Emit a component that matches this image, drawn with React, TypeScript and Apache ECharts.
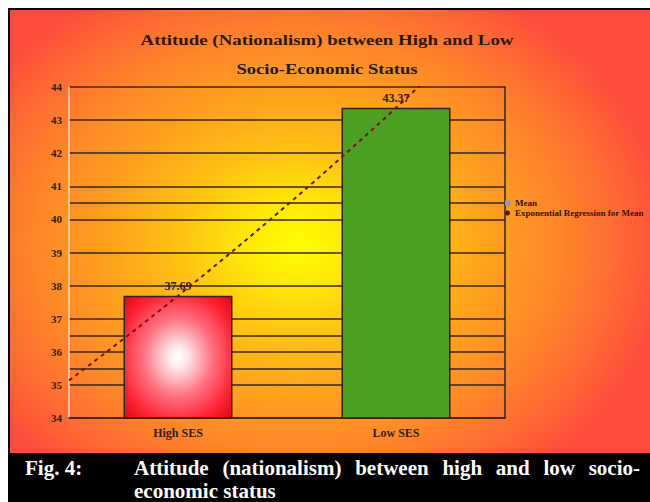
import React, { useEffect, useRef } from 'react';
import * as echarts from 'echarts';

// ---- data ----
const categories = ['High SES', 'Low SES'];
const meanValues = [37.69, 43.37];
const yAxisLabels = [34, 35, 36, 37, 38, 39, 40, 41, 42, 43, 44];
const gridLevels = [34, 35, 35.5, 36, 36.5, 37, 38, 39, 40, 40.5, 41, 42, 43, 44];
const titleLines = ['Attitude (Nationalism) between High and Low', 'Socio-Economic Status'];
const legendNames = ['Mean', 'Exponential Regression for Mean'];
const captionLabel = 'Fig. 4:';
const captionLine1 = ['Attitude', '(nationalism)', 'between', 'high', 'and', 'low', 'socio-'];
const captionLine2 = 'economic status';

// ---- styling ----
const SERIF = '"Liberation Serif", "Times New Roman", serif';
const INK = '#35200e';
const GRID_INK = '#3a2614';
const Y_MIN = 34;
const Y_MAX = 44;
const Y_STEP = 0.5;

// Exponential least-squares fit of the means (x = 1..n), used for the trend curve
function expRegression(values: number[]) {
  const n = values.length;
  const xs = values.map((_, i) => i + 1);
  const ly = values.map((v) => Math.log(v));
  const mx = xs.reduce((a, b) => a + b, 0) / n;
  const my = ly.reduce((a, b) => a + b, 0) / n;
  let sxy = 0;
  let sxx = 0;
  xs.forEach((x, i) => {
    sxy += (x - mx) * (ly[i] - my);
    sxx += (x - mx) * (x - mx);
  });
  const b = sxy / sxx;
  const a = my - b * mx;
  return (x: number) => Math.exp(a + b * x);
}

function buildOption() {
  const fit = expRegression(meanValues);
  const trend: number[][] = [];
  for (let i = 0; i <= 40; i++) {
    const x = 0.5 + i * 0.05;
    trend.push([x, fit(x)]);
  }

  // one split line per 0.5 step; only the levels in gridLevels are inked
  const tickCount = Math.round((Y_MAX - Y_MIN) / Y_STEP) + 1;
  const splitColors: string[] = [];
  for (let i = 0; i < tickCount; i++) {
    const v = Y_MIN + i * Y_STEP;
    splitColors.push(gridLevels.some((g) => Math.abs(g - v) < 1e-6) ? GRID_INK : 'rgba(0,0,0,0)');
  }

  // justify the first caption line between two x positions
  const captionFont = `bold 21px ${SERIF}`;
  const ctx = document.createElement('canvas').getContext('2d')!;
  ctx.font = captionFont;
  const widths = captionLine1.map((w) => ctx.measureText(w).width);
  const lineStart = 134;
  const lineEnd = 640;
  const gap = (lineEnd - lineStart - widths.reduce((a, b) => a + b, 0)) / (captionLine1.length - 1);
  let cx = lineStart;
  const captionWords = captionLine1.map((w, i) => {
    const el = {
      type: 'text',
      x: cx,
      y: 468,
      style: { text: w, font: captionFont, fill: '#ffffff', textVerticalAlign: 'middle', verticalAlign: 'middle' },
    };
    cx += widths[i] + gap;
    return el;
  });

  const redGlow = new echarts.graphic.RadialGradient(0.5, 0.5, 0.72, [
    { offset: 0, color: '#ffffff' },
    { offset: 0.12, color: '#ffe8ec' },
    { offset: 0.45, color: '#ff7080' },
    { offset: 0.75, color: '#ff2434' },
    { offset: 1, color: '#e00010' },
  ]);

  return {
    animation: false,
    textStyle: { fontFamily: SERIF },
    graphic: [
      {
        type: 'text',
        x: 327,
        y: 40,
        scaleX: 1.26,
        style: {
          text: titleLines[0],
          font: `bold 15px ${SERIF}`,
          fill: '#2b1a0c',
          textAlign: 'center',
          align: 'center',
          textVerticalAlign: 'middle',
          verticalAlign: 'middle',
        },
      },
      {
        type: 'text',
        x: 327,
        y: 69,
        scaleX: 1.24,
        style: {
          text: titleLines[1],
          font: `bold 15px ${SERIF}`,
          fill: '#2b1a0c',
          textAlign: 'center',
          align: 'center',
          textVerticalAlign: 'middle',
          verticalAlign: 'middle',
        },
      },
      {
        type: 'text',
        x: 25,
        y: 468,
        style: { text: captionLabel, font: captionFont, fill: '#ffffff', textVerticalAlign: 'middle', verticalAlign: 'middle' },
      },
      ...captionWords,
      {
        type: 'text',
        x: lineStart,
        y: 491,
        style: { text: captionLine2, font: captionFont, fill: '#ffffff', textVerticalAlign: 'middle', verticalAlign: 'middle' },
      },
    ],
    legend: {
      orient: 'vertical',
      left: 505,
      top: 198,
      padding: 0,
      itemGap: 0,
      itemWidth: 5,
      itemHeight: 5,
      textStyle: { fontFamily: SERIF, fontWeight: 'bold', fontSize: 9, color: '#2a1808', lineHeight: 10 },
      data: [
        { name: legendNames[0], icon: 'rect', itemStyle: { color: '#8a94ff', borderWidth: 0 } },
        { name: legendNames[1], icon: 'circle', itemStyle: { color: '#5a1a0a', borderWidth: 0 } },
      ],
    },
    grid: { left: 69, right: 145, top: 87, bottom: 84, containLabel: false },
    xAxis: [
      {
        type: 'category',
        data: categories,
        axisLine: { show: true, lineStyle: { color: GRID_INK, width: 1.5 } },
        axisTick: { show: false },
        axisLabel: { color: INK, fontFamily: SERIF, fontWeight: 'bold', fontSize: 12, margin: 9 },
        splitLine: { show: false },
      },
      { type: 'value', min: 0.5, max: 2.5, show: false },
    ],
    yAxis: [
      {
        type: 'value',
        min: Y_MIN,
        max: Y_MAX,
        interval: Y_STEP,
        axisLine: { show: true, lineStyle: { color: '#f0d8b8', width: 1.5 } },
        axisTick: { show: false },
        axisLabel: {
          color: INK,
          fontFamily: SERIF,
          fontWeight: 'bold',
          fontSize: 11,
          margin: 7,
          formatter: (v: number) => (yAxisLabels.some((t) => Math.abs(t - v) < 1e-6) ? String(Math.round(v)) : ''),
        },
        splitLine: { show: true, lineStyle: { color: splitColors, width: 1.5 } },
      },
      {
        type: 'value',
        position: 'right',
        min: Y_MIN,
        max: Y_MAX,
        axisLine: { show: true, lineStyle: { color: GRID_INK, width: 1.5 } },
        axisTick: { show: false },
        axisLabel: { show: false },
        splitLine: { show: false },
      },
    ],
    series: [
      {
        name: legendNames[0],
        type: 'bar',
        xAxisIndex: 0,
        yAxisIndex: 0,
        barWidth: '50%',
        data: [
          { value: meanValues[0], itemStyle: { color: redGlow } },
          { value: meanValues[1], itemStyle: { color: '#4c9f22' } },
        ],
        itemStyle: { borderColor: '#3a1e0c', borderWidth: 1.5 },
        label: {
          show: true,
          position: 'top',
          distance: 4,
          color: INK,
          fontFamily: SERIF,
          fontWeight: 'bold',
          fontSize: 12,
        },
      },
      {
        name: legendNames[1],
        type: 'line',
        xAxisIndex: 1,
        yAxisIndex: 0,
        data: trend,
        symbol: 'none',
        showSymbol: false,
        clip: true,
        z: 5,
        lineStyle: { color: '#7a1414', width: 2, type: [4, 4] },
      },
    ],
  };
}

export default function App() {
  const ref = useRef<HTMLDivElement>(null);

  useEffect(() => {
    document.body.style.margin = '0';
    if (!ref.current) return;
    const chart = echarts.init(ref.current, undefined, { renderer: 'svg' });
    chart.setOption(buildOption() as any);
    return () => chart.dispose();
  }, []);

  return (
    <div style={{ position: 'relative', width: 650, height: 502, background: '#ffffff', overflow: 'hidden' }}>
      <div style={{ position: 'absolute', left: 8, top: 8, width: 642, height: 494, background: '#000000' }} />
      <div
        style={{
          position: 'absolute',
          left: 10,
          top: 10,
          width: 640,
          height: 443,
          background:
            'radial-gradient(ellipse 58% 66% at 45% 53%, #ffff00 0%, #ffe808 14%, #ffc212 32%, #ffa01e 52%, #ff8a28 68%, #ff6c32 85%, #ff4c3c 100%)',
        }}
      />
      <div ref={ref} style={{ position: 'absolute', left: 0, top: 0, width: 650, height: 502 }} />
    </div>
  );
}
